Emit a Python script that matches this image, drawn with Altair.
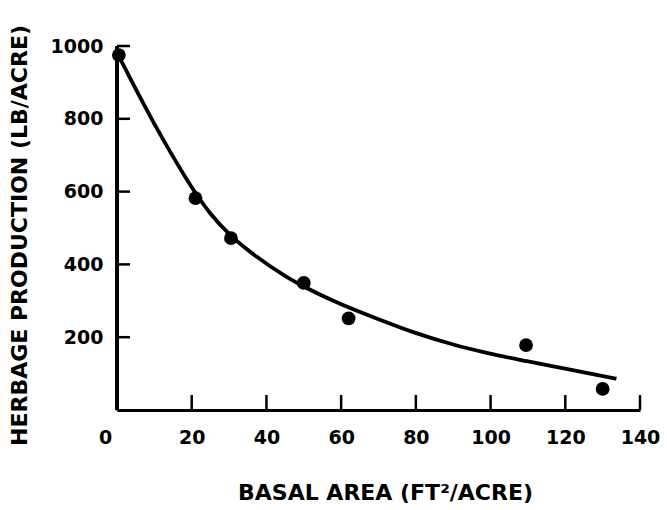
import altair as alt
import pandas as pd

# Observed data points
pts_x = [0.5, 21, 30.5, 50, 62, 109.5, 130]
pts_y = [975, 582, 472, 349, 252, 178, 58]

# Fitted curve
curve_x = [0, 5, 10, 15, 20, 25, 30.7, 36.5, 45.4, 50.3, 58.8, 70.4, 79.3, 90, 99, 109.7, 121.3, 133.7]
curve_y = [982, 882, 786, 696, 612, 540, 477, 428, 366, 338, 296, 248, 214, 180, 157, 134, 111, 86]

x_ticks = [0, 20, 40, 60, 80, 100, 120, 140]
y_ticks = [200, 400, 600, 800, 1000]

pts = pd.DataFrame({"x": pts_x, "y": pts_y})
curve = pd.DataFrame({"x": curve_x, "y": curve_y})
xt = pd.DataFrame({"x": x_ticks[1:]})
yt = pd.DataFrame({"y": y_ticks})

W, H = 523, 364
FONT = "DejaVu Sans"

xscale = alt.Scale(domain=[0, 140], nice=False, zero=False)
yscale = alt.Scale(domain=[0, 1000], nice=False)

xaxis = alt.Axis(
    values=x_ticks, format="d", title="BASAL AREA (FT²/ACRE)", grid=False, ticks=False,
    domainColor="black", domainWidth=3, labelPadding=18, labelFontSize=19,
    labelFont=FONT, labelFontWeight="bold", labelColor="black",
    labelOffset={"condition": {"test": "datum.value == 0", "value": -12}, "value": 0},
    titleFont=FONT, titleFontSize=22, titleFontWeight="bold", titleColor="black",
    titlePadding=35, labelFlush=False, titleX=268,
)
yaxis = alt.Axis(
    values=y_ticks, format="d", title="HERBAGE PRODUCTION (LB/ACRE)", grid=False, ticks=False,
    domainColor="black", domainWidth=3, labelPadding=14, labelFontSize=19,
    labelFont=FONT, labelFontWeight="bold", labelColor="black",
    titleFont=FONT, titleFontSize=22, titleFontWeight="bold", titleColor="black",
    titlePadding=19, labelFlush=False, titleY=189,
)

X = alt.X("x:Q", scale=xscale, axis=xaxis)
Y = alt.Y("y:Q", scale=yscale, axis=yaxis)

points = alt.Chart(pts).mark_circle(size=190, color="black", opacity=1).encode(x=X, y=Y)

line = alt.Chart(curve).mark_line(color="black", strokeWidth=3.8, interpolate="monotone").encode(x=X, y=Y)

xtick_marks = alt.Chart(xt).mark_rule(color="black", strokeWidth=2.5).encode(
    x=X,
    y=alt.value(H),
    y2=alt.value(H - 15),
)

ytick_marks = alt.Chart(yt).mark_rule(color="black", strokeWidth=2.5).encode(
    y=Y,
    x=alt.value(0),
    x2=alt.value(13),
)

yaxis_line = alt.Chart(yt).mark_rule(color="black", strokeWidth=3).encode(
    x=alt.value(0), y=alt.value(0), y2=alt.value(H)
)

chart = alt.layer(line, points, xtick_marks, ytick_marks, yaxis_line).properties(
    width=W, height=H,
    autosize=alt.AutoSizeParams(type="none"),
    padding={"left": 117, "top": 46, "right": 27, "bottom": 100},
    background="white",
).configure_view(stroke=None)

chart.save("out.html", embed_options={"renderer": "svg", "actions": False})
